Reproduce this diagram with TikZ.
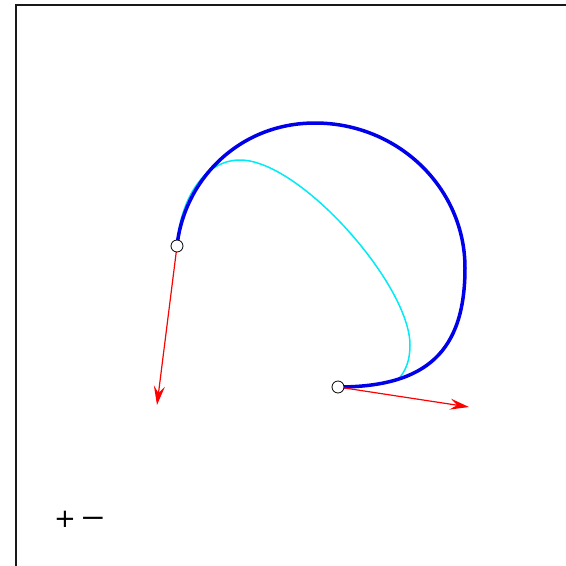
\documentclass[tikz,border=0pt]{standalone}
\usepackage{fontspec}
\usepackage{graphicx}
\newfontfamily\djv{DejaVu Sans}
\usetikzlibrary{arrows.meta}
\definecolor{aquac}{RGB}{0,235,245}
\definecolor{bluec}{RGB}{0,0,235}
\definecolor{redc}{RGB}{255,0,0}
\begin{document}
\begin{tikzpicture}[x=1pt,y=-1pt,
  handle/.style={circle,draw=black,fill=white,line width=0.8pt,minimum size=12pt,inner sep=0pt},
  vec/.style={redc,line width=1.2pt,-{Stealth[length=19pt,width=11pt,inset=7pt]}},
  mainc/.style={bluec,line width=3.5pt},
  auxc/.style={aquac,line width=1.5pt},
  framel/.style={line width=2pt,black!90},
  btn/.style={font=\djv\fontsize{26}{26}\selectfont,inner sep=0pt}]
\useasboundingbox (0,0) rectangle (566,566);
\fill[white] (0,0) rectangle (566,566);
\draw[framel] (16,566) -- (16,5) -- (566,5);
\coordinate (a) at (177,246);
\coordinate (b) at (338,387);
\coordinate (ta) at (157,405);
\coordinate (tb) at (469,407);
\draw[auxc] (a) .. controls (180,198) and (205,160) .. (240,160)
  .. controls (300,160) and (410,285) .. (410,345)
  .. controls (410,360) and (406,371) .. (398,379.5)
  .. controls (380,385) and (360,387) .. (b);
\draw[mainc] (a) .. controls (184,180) and (239,123) .. (315,123)
  .. controls (398,123) and (465,188) .. (465,268)
  .. controls (465,351) and (427,387) .. (b);
\draw[vec] (a) -- (ta);
\draw[vec] (b) -- (tb);
\node[handle] (p0) at (a) {};
\node[handle] (p1) at (b) {};
\node[btn] (plus) at (65,519) {+};
\node[btn] (minus) at (93,522) {\scalebox{1.2}[1]{−}};
\end{tikzpicture}
\end{document}
